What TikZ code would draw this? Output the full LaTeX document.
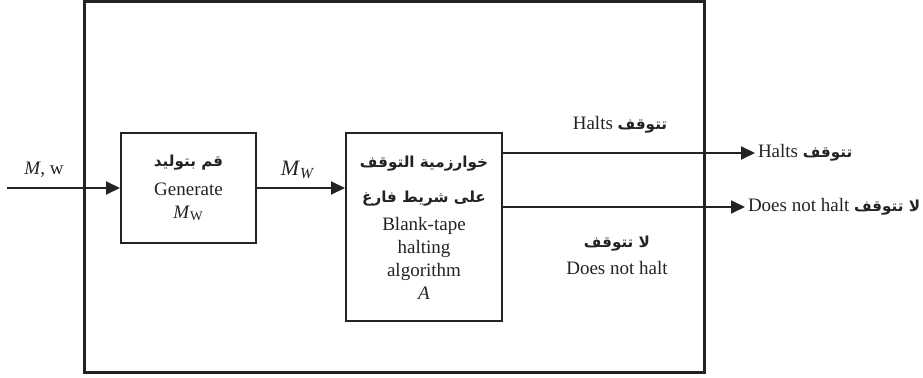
\documentclass[tikz,border=0pt]{standalone}
\usepackage{fontspec}
\setmainfont{Liberation Serif}
\newfontfamily\arabicfont[Script=Arabic,Scale=0.8]{DejaVu Sans}
\TeXXeTstate=1
\usetikzlibrary{arrows.meta,positioning}
\newcommand{\artxt}[1]{{\arabicfont\bfseries\beginR #1\endR}}
\definecolor{ink}{RGB}{35,35,35}
\tikzset{
  every picture/.style={color=ink, line width=1pt, font=\fontsize{9.5}{11.4}\selectfont},
  box/.style={draw=ink, line width=1pt, fill=white, inner sep=2pt, align=center},
  wrapbox/.style={draw=ink, line width=1.4pt},
  flow/.style={-{Triangle[length=7pt,width=6.5pt]}, line width=1pt},
  lbl/.style={inner sep=1pt, align=center},
}

\begin{document}
\begin{tikzpicture}[x=0.5pt,y=-0.5pt]
  \useasboundingbox (0,0) rectangle (923,378);
  \node[wrapbox, minimum width=310pt, minimum height=185.5pt] (world) at (394.5,187) {};
  \node[box, minimum width=67.5pt, minimum height=55pt] (gen) at (188.5,188)
    {\artxt{قم بتوليد}\\[3pt]Generate\\\textit{M}\textsubscript{W}};
  \node[box, minimum width=78pt, minimum height=94pt] (alg) at (424,227.5)
    {\artxt{خوارزمية التوقف}\\[6pt]\artxt{على شريط فارغ}\\[3pt]Blank-tape\\halting\\algorithm\\\textit{A}};
  \coordinate (src) at (7,188);
  \coordinate (haltend) at (755,153);
  \coordinate (loopend) at (745,207);
  \draw[flow] (src) -- (gen.west);
  \node[lbl] (inlbl) at (44,170) {\textit{M}, w};
  \draw[flow] (gen.east) -- (gen.east -| alg.west);
  \node[lbl] (mwlbl) at (298,170) {\fontsize{11}{13}\selectfont\textit{M}\textsubscript{\textit{W}}};
  \draw[flow] (alg.east |- haltend) -- (haltend) node[right, lbl] (haltout) {Halts \artxt{تتوقف}};
  \draw[flow] (alg.east |- loopend) -- (loopend) node[right, lbl] (loopout) {Does not halt \artxt{لا تتوقف}};
  \node[lbl] (haltlbl) at (620,125) {Halts \artxt{تتوقف}};
  \node[lbl] (looplbl) at (617,255) {\artxt{لا تتوقف}\\[2pt]Does not halt};
\end{tikzpicture}
\end{document}
